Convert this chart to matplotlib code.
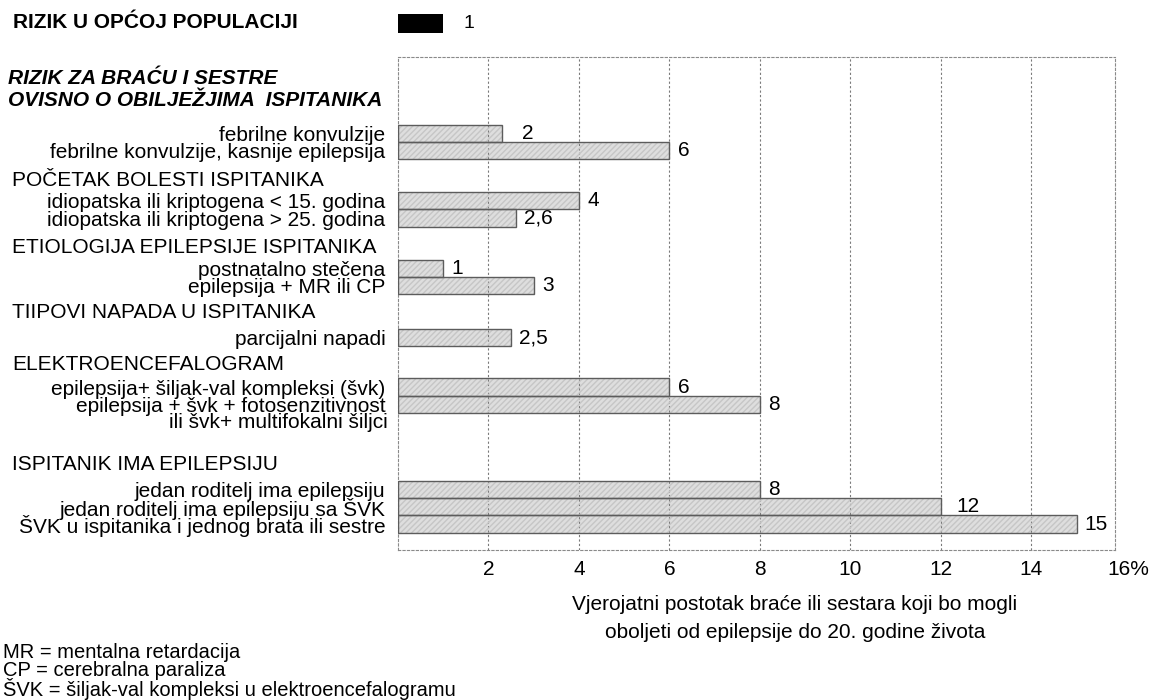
import matplotlib.pyplot as plt
from matplotlib import transforms

plt.rcParams['font.family'] = ['Liberation Sans', 'DejaVu Sans']
plt.rcParams['font.size'] = 15

# podaci
categories = [
    'febrilne konvulzije',
    'febrilne konvulzije, kasnije epilepsija',
    'idiopatska ili kriptogena < 15. godina',
    'idiopatska ili kriptogena > 25. godina',
    'postnatalno stečena',
    'epilepsija + MR ili CP',
    'parcijalni napadi',
    'epilepsija+ šiljak-val kompleksi (švk)',
    'epilepsija + švk + fotosenzitivnost',
    'jedan roditelj ima epilepsiju',
    'jedan roditelj ima epilepsiju sa ŠVK',
    'ŠVK u ispitanika i jednog brata ili sestre',
]
values = [2.3, 6, 4, 2.6, 1, 3, 2.5, 6, 8, 8, 12, 15]
value_labels = ['2', '6', '4', '2,6', '1', '3', '2,5', '6', '8', '8', '12', '15']
groups = ['POČETAK BOLESTI ISPITANIKA', 'ETIOLOGIJA EPILEPSIJE ISPITANIKA',
          'TIIPOVI NAPADA U ISPITANIKA', 'ELEKTROENCEFALOGRAM',
          'ISPITANIK IMA EPILEPSIJU']
population_risk = 1
xticks = [2, 4, 6, 8, 10, 12, 14]
notes = ['MR = mentalna retardacija', 'CP = cerebralna paraliza',
         'ŠVK = šiljak-val kompleksi u elektroencefalogramu']

# raspored redova (jedinica = visina jedne trake)
rows = [4.4, 5.4, 8.3, 9.3, 12.2, 13.2, 16.2, 19.05, 20.05, 24.95, 25.95, 26.95]
group_rows = [7.15, 11.0, 14.75, 17.75, 23.5]
label_dx = {0: 0.45, 10: 0.35}

fig = plt.figure(figsize=(11.5, 7), dpi=100)
ax = fig.add_axes([398 / 1150, 1 - 550 / 700, 717 / 1150, 493 / 700])

ax.barh(rows, values, height=1.0, color='#dedede', edgecolor='none', zorder=2)
ax.barh(rows, values, height=1.0, fill=False, hatch='//////',
        edgecolor='#c6c6c6', linewidth=0, zorder=3)
ax.barh(rows, values, height=1.0, fill=False, edgecolor='#5c5c5c',
        linewidth=1, zorder=4)

for i, (v, t) in enumerate(zip(values, value_labels)):
    ax.text(v + label_dx.get(i, 0.18), rows[i], t, va='center', ha='left')

# rizik u općoj populaciji
ax.barh(-1.96, population_risk, height=1.1, color='black', clip_on=False)
ax.text(population_risk + 0.45, -1.96, str(population_risk), va='center',
        ha='left', fontsize=14)

ax.set_xlim(0, 15.85)
ax.set_ylim(28.45, 0)
ax.set_xticks(xticks)
ax.set_yticks(rows, categories)
ax.tick_params(axis='both', length=0)
ax.tick_params(axis='x', pad=7, labelsize=15)
ax.tick_params(axis='y', pad=9, labelsize=15)
ax.annotate('16%', xy=(16.15, 0), xycoords=ax.get_xaxis_transform(),
            xytext=(0, -7), textcoords='offset points', ha='center', va='top',
            fontsize=15)

ax.grid(axis='x', linestyle=(0, (2, 2)), color='#7a7a7a', linewidth=0.8,
        zorder=5)
ax.set_axisbelow(False)
for s in ax.spines.values():
    s.set_linestyle((0, (2, 2)))
    s.set_color('#8a8a8a')
    s.set_linewidth(0.8)

ax.set_xlabel('Vjerojatni postotak braće ili sestara koji bo mogli\n'
              'oboljeti od epilepsije do 20. godine života',
              fontsize=15, linespacing=1.55)
ax.xaxis.set_label_coords((795 - 398) / 717, -0.092)

tr = transforms.blended_transform_factory(fig.transFigure, ax.transData)
for g, r in zip(groups, group_rows):
    ax.text(12 / 1150, r, g, transform=tr, va='center', ha='left')
ax.text(388 / 1150, 21.1, 'ili švk+ multifokalni šiljci', transform=tr,
        va='center', ha='right')

fig.text(13 / 1150, 1 - 23 / 700, 'RIZIK U OPĆOJ POPULACIJI',
         fontweight='bold', va='center', ha='left')
fig.text(8 / 1150, 1 - 78 / 700, 'RIZIK ZA BRAĆU I SESTRE',
         fontweight='bold', fontstyle='italic', va='center', ha='left')
fig.text(8 / 1150, 1 - 100 / 700, 'OVISNO O OBILJEŽJIMA  ISPITANIKA',
         fontweight='bold', fontstyle='italic', va='center', ha='left')

for i, n in enumerate(notes):
    fig.text(3 / 1150, 1 - (652 + i * 18.5) / 700, n, va='center', ha='left',
             fontsize=14.5)

fig.savefig('out.png', dpi=100)
